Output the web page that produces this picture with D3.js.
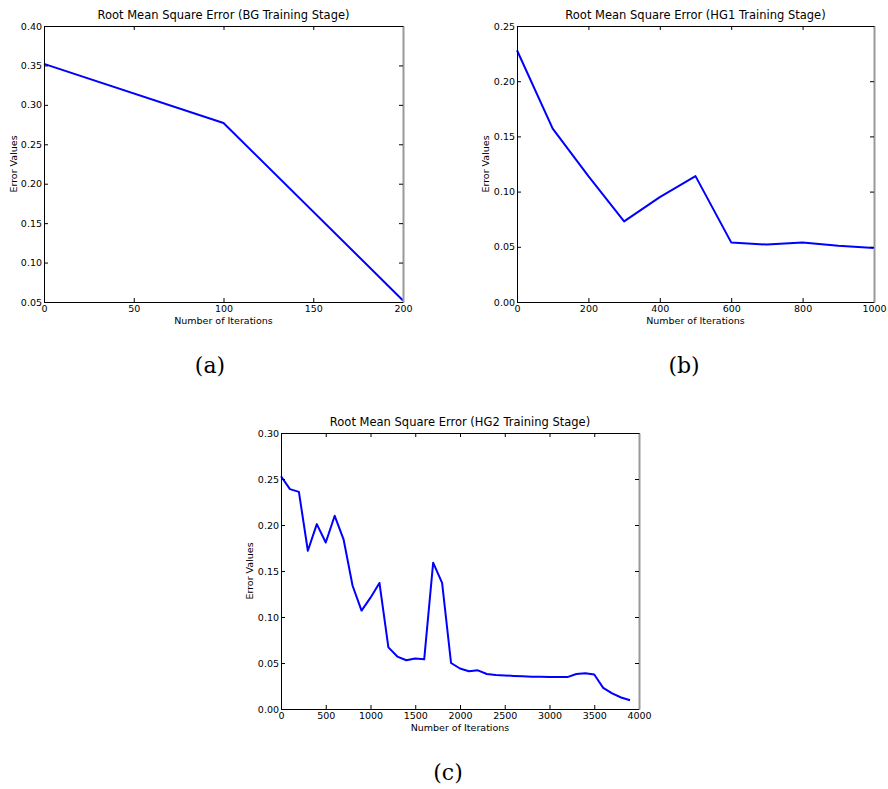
<!DOCTYPE html>
<html>
<head>
<meta charset="utf-8">
<script src="https://cdn.jsdelivr.net/npm/d3@7"></script>
<style>
  body { margin: 0; background: #fff; }
  svg { display: block; }
  text { font-family: "DejaVu Sans", sans-serif; fill: #000; }
</style>
</head>
<body>
<svg id="chart" width="888" height="789"></svg>
<script>
// (a) BG training stage
const bgIterations = [0, 100, 200];
const bgErrors = [0.352, 0.277, 0.052];
const bgXTicks = [0, 50, 100, 150, 200];
const bgYTicks = [0.05, 0.10, 0.15, 0.20, 0.25, 0.30, 0.35, 0.40];

// (b) HG1 training stage
const hg1Iterations = [0, 100, 200, 300, 400, 500, 600, 700, 800, 900, 1000];
const hg1Errors = [0.228, 0.157, 0.114, 0.073, 0.095, 0.114, 0.054, 0.052, 0.054, 0.051, 0.049];
const hg1XTicks = [0, 200, 400, 600, 800, 1000];
const hg1YTicks = [0.00, 0.05, 0.10, 0.15, 0.20, 0.25];

// (c) HG2 training stage
const hg2Iterations = [0, 100, 200, 300, 400, 500, 600, 700, 800, 900,
  1000, 1100, 1200, 1300, 1400, 1500, 1600, 1700, 1800, 1900,
  2000, 2100, 2200, 2300, 2400, 2500, 2600, 2700, 2800, 2900,
  3000, 3100, 3200, 3300, 3400, 3500, 3600, 3700, 3800, 3900];
const hg2Errors = [0.253, 0.239, 0.236, 0.172, 0.201, 0.181, 0.210, 0.184, 0.134, 0.107,
  0.121, 0.137, 0.067, 0.057, 0.053, 0.055, 0.054, 0.159, 0.137, 0.050,
  0.044, 0.041, 0.042, 0.038, 0.037, 0.0365, 0.036, 0.0355, 0.035, 0.035,
  0.0347, 0.0347, 0.0347, 0.038, 0.0388, 0.0375, 0.023, 0.017, 0.0125, 0.0095];
const hg2XTicks = [0, 500, 1000, 1500, 2000, 2500, 3000, 3500, 4000];
const hg2YTicks = [0.00, 0.05, 0.10, 0.15, 0.20, 0.25, 0.30];

const svg = d3.select('#chart');

function drawPanel(opts) {
  const { left, right, top, bottom } = opts.box;
  const x = d3.scaleLinear().domain(opts.xDomain).range([left, right]);
  const y = d3.scaleLinear().domain(opts.yDomain).range([bottom, top]);
  const g = svg.append('g');
  const fontSize = '9.5px';

  // line first so the frame sits on top of it
  const line = d3.line()
    .x((d, i) => x(opts.xs[i]))
    .y(d => y(d));
  g.append('path')
    .datum(opts.ys)
    .attr('d', line)
    .attr('fill', 'none')
    .attr('stroke', '#0000ff')
    .attr('stroke-width', 2)
    .attr('stroke-linejoin', 'round');

  const styleAxis = sel => {
    sel.attr('font-family', null).attr('font-size', null);
    sel.select('.domain').attr('stroke', '#000').attr('stroke-width', 1);
    sel.selectAll('.tick line').attr('stroke', '#000');
    sel.selectAll('.tick text').style('font-size', fontSize).style('fill', '#000');
  };

  g.append('g')
    .attr('transform', `translate(0,${bottom})`)
    .call(d3.axisBottom(x).tickValues(opts.xTicks).tickFormat(d3.format('d'))
      .tickSize(-4).tickSizeOuter(0).tickPadding(3))
    .call(styleAxis);
  g.append('g')
    .attr('transform', `translate(0,${top})`)
    .call(d3.axisTop(x).tickValues(opts.xTicks).tickFormat('')
      .tickSize(-4).tickSizeOuter(0))
    .call(styleAxis);
  g.append('g')
    .attr('transform', `translate(${left},0)`)
    .call(d3.axisLeft(y).tickValues(opts.yTicks).tickFormat(d3.format('.2f'))
      .tickSize(-4).tickSizeOuter(0).tickPadding(2))
    .call(styleAxis);
  const rightAxis = g.append('g')
    .attr('transform', `translate(${right},0)`)
    .call(d3.axisRight(y).tickValues(opts.yTicks).tickFormat('')
      .tickSize(-4).tickSizeOuter(0))
    .call(styleAxis);
  rightAxis.select('.domain').attr('stroke', '#999').attr('stroke-width', 2);

  g.append('text')
    .attr('x', (left + right) / 2)
    .attr('y', top - 7)
    .attr('text-anchor', 'middle')
    .style('font-size', '11.5px')
    .text(opts.title);

  g.append('text')
    .attr('x', (left + right) / 2)
    .attr('y', bottom + 22)
    .attr('text-anchor', 'middle')
    .style('font-size', fontSize)
    .text('Number of Iterations');

  g.append('text')
    .attr('transform', `translate(${opts.yLabelX},${(top + bottom) / 2}) rotate(-90)`)
    .attr('text-anchor', 'middle')
    .style('font-size', fontSize)
    .text('Error Values');

  svg.append('text')
    .attr('x', opts.caption.x)
    .attr('y', opts.caption.y)
    .attr('text-anchor', 'middle')
    .style('font-family', '"DejaVu Serif", serif')
    .style('font-size', '22px')
    .text(opts.caption.text);
}

drawPanel({
  box: { left: 44, right: 403, top: 26, bottom: 302 },
  xDomain: [0, 200], yDomain: [0.05, 0.40],
  xs: bgIterations, ys: bgErrors,
  xTicks: bgXTicks, yTicks: bgYTicks,
  title: 'Root Mean Square Error (BG Training Stage)',
  yLabelX: 17,
  caption: { text: '(a)', x: 210, y: 373 }
});

drawPanel({
  box: { left: 517, right: 874, top: 26, bottom: 302 },
  xDomain: [0, 1000], yDomain: [0, 0.25],
  xs: hg1Iterations, ys: hg1Errors,
  xTicks: hg1XTicks, yTicks: hg1YTicks,
  title: 'Root Mean Square Error (HG1 Training Stage)',
  yLabelX: 489,
  caption: { text: '(b)', x: 684, y: 373 }
});

drawPanel({
  box: { left: 281, right: 639, top: 433, bottom: 709 },
  xDomain: [0, 4000], yDomain: [0, 0.30],
  xs: hg2Iterations, ys: hg2Errors,
  xTicks: hg2XTicks, yTicks: hg2YTicks,
  title: 'Root Mean Square Error (HG2 Training Stage)',
  yLabelX: 253,
  caption: { text: '(c)', x: 448, y: 780 }
});
</script>
</body>
</html>
